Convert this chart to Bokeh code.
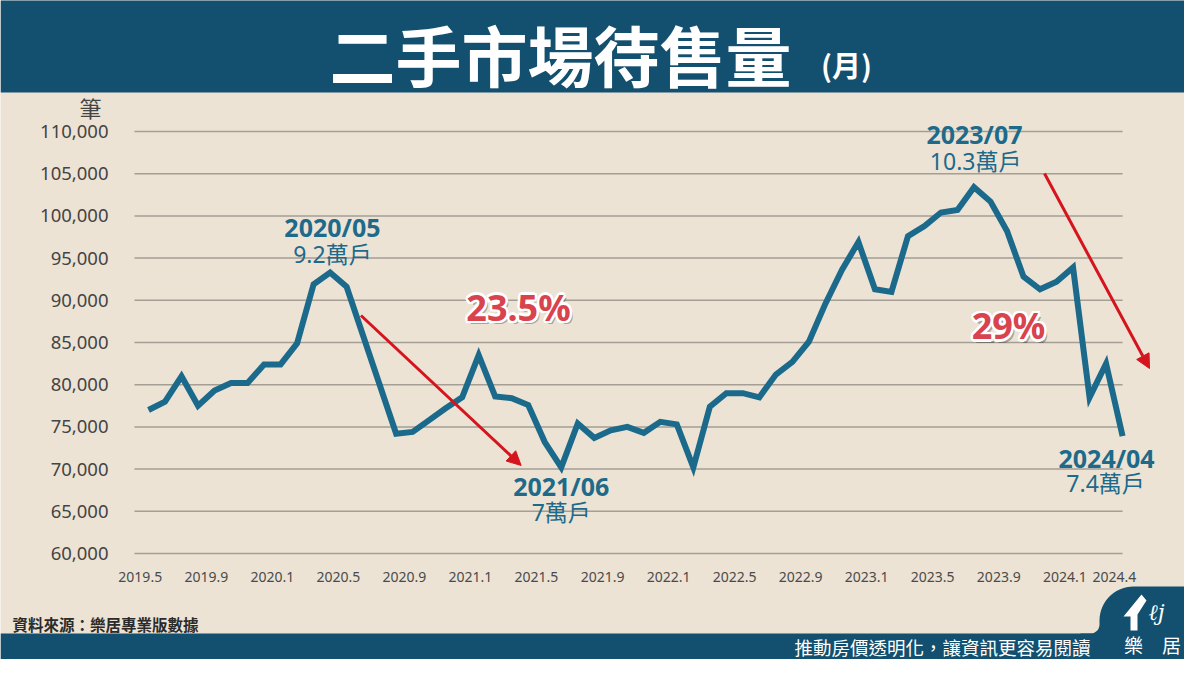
import numpy as np
from bokeh.plotting import figure
from bokeh.models import Range1d, FixedTicker, LinearAxis, Arrow, NormalHead, NumeralTickFormatter
from bokeh.embed import file_html
from bokeh.resources import INLINE
from bokeh.core.properties import value

# ---------------- data ----------------
month_index = list(range(60))  # 2019.5 ... 2024.4
inventory = [77000, 78000, 81000, 77500, 79300, 80200, 80200, 82400, 82400, 84900,
             91900, 93300, 91600, 85800, 80000, 74200, 74400, 75800, 77200, 78500,
             83500, 78600, 78400, 77600, 73200, 70200, 75400, 73700, 74600, 75000,
             74300, 75600, 75300, 70200, 77400, 79000, 79000, 78500, 81200, 82700,
             85100, 89600, 93600, 96900, 91300, 91000, 97600, 98800, 100400, 100700,
             103400, 101700, 98200, 92800, 91300, 92200, 93900, 78500, 82500, 73900]
tick_index = [0, 4, 8, 12, 16, 20, 24, 28, 32, 36, 40, 44, 48, 52, 56, 59]
tick_labels = ["2019.5", "2019.9", "2020.1", "2020.5", "2020.9", "2021.1", "2021.5", "2021.9",
               "2022.1", "2022.5", "2022.9", "2023.1", "2023.5", "2023.9", "2024.1", "2024.4"]
y_ticks = [60000, 65000, 70000, 75000, 80000, 85000, 90000, 95000, 100000, 105000, 110000]

# annotations (month index, value)
date_labels = ["2020/05", "2021/06", "2023/07", "2024/04"]
date_x = [11.14, 25.0, 50.03, 58.03]
date_y = [98740, 67940, 109700, 71370]
unit_labels = ["9.2萬戶", "7萬戶", "10.3萬戶", "7.4萬戶"]
unit_x = [11.14, 25.0, 50.1, 57.97]
unit_y = [95430, 64860, 106560, 68410]
pct_labels = ["23.5%", "29%"]
pct_x = [22.41, 52.09]
pct_y = [89150, 87010]
arrows = [(12.87, 88200, 22.57, 70430), (54.27, 105020, 60.63, 81920)]

# ---------------- style / layout ----------------
BG = "#ece3d5"
HDR = "#134f6e"
LINE = "#1b6a8b"
TXT = "#1d6a8a"
RED = "#d5141d"
PCT = "#d8434e"
GRID = "#a59e94"
CJK = "Noto Sans CJK TC"
MIX = "Noto Sans, Noto Sans CJK TC"

W, H = 1184, 659
PX0, PXM = 148.0, 16.51          # pixel of month 0, pixels per month
PY0, PYU = 553.0, 422.0 / 50000  # pixel of 60,000, pixels per unit

def mx(px):
    return (px - PX0) / PXM

def my(py):
    return 60000 + (PY0 - py) / PYU

def fy(y):
    # footer strip squeezed slightly so that it fits the canvas height
    return y if y <= 600 else 600 + (y - 600) * (H - 600) / (675 - 600)

p = figure(width=W, height=H, x_range=Range1d(0, W), y_range=Range1d(H, 0),
           x_axis_type=None, y_axis_type=None, output_backend="svg", toolbar_location=None,
           min_border=0, background_fill_color=BG, border_fill_color=BG, outline_line_color=None)
p.grid.visible = False
p.extra_x_ranges = {"mx": Range1d(mx(0), mx(W)),
                    "lab": Range1d(mx(0) + 0.5, mx(W) + 0.5)}
p.extra_y_ranges = {"my": Range1d(my(H), my(0))}

# header band and title
p.quad(left=[0], right=[1200], top=[-5], bottom=[92], fill_color=HDR, line_color=None)
p.text(x=[560], y=[52], text=["二手市場待售量"], text_font=value(CJK), text_font_size="66px",
       text_font_style="bold", text_color="white", text_align="center", text_baseline="middle")
p.text(x=[846], y=[63], text=["(月)"], text_font=value(CJK), text_font_size="29px",
       text_font_style="bold", text_color="white", text_align="center", text_baseline="middle")

# axes (drawn at fixed locations, no extra border space)
ya = LinearAxis(y_range_name="my", fixed_location=130, ticker=FixedTicker(ticks=y_ticks),
                formatter=NumeralTickFormatter(format="0,0"))
ya.axis_line_color = None
ya.major_tick_line_color = None
ya.minor_tick_line_color = None
ya.major_label_standoff = 16
ya.major_label_text_font_size = "18.5px"
ya.major_label_text_color = "#444444"
ya.major_label_text_font = "Noto Sans"
p.add_layout(ya, "left")

xa = LinearAxis(x_range_name="lab", fixed_location=558, ticker=FixedTicker(ticks=tick_index),
                major_label_overrides={i: l for i, l in zip(tick_index, tick_labels)})
xa.axis_line_color = None
xa.major_tick_line_color = None
xa.minor_tick_line_color = None
xa.major_label_standoff = 7
xa.major_label_text_font_size = "14px"
xa.major_label_text_color = "#4a4a4a"
xa.major_label_text_font = "Noto Sans"
p.add_layout(xa, "below")

p.text(x=[90], y=[106], text=["筆"], text_font=value(CJK), text_font_size="22px",
       text_color="#444444", text_align="center", text_baseline="middle")

# grid lines
n = len(y_ticks)
p.segment(x0=[mx(134)] * n, y0=y_ticks, x1=[month_index[-1]] * n, y1=y_ticks,
          line_color=GRID, line_width=1.5, x_range_name="mx", y_range_name="my")

# data line
p.line(x=month_index, y=inventory, line_color=LINE, line_width=6, line_join="miter",
       x_range_name="mx", y_range_name="my")

for xs, ys, xe, ye in arrows:
    p.add_layout(Arrow(end=NormalHead(size=14, fill_color=RED, line_color=RED),
                       x_start=xs, y_start=ys, x_end=xe, y_end=ye,
                       line_color=RED, line_width=3, x_range_name="mx", y_range_name="my"))

p.text(x=date_x, y=date_y, text=date_labels, text_font=value(MIX), text_font_size="25px",
       text_font_style="bold", text_color=TXT, text_align="center", text_baseline="middle",
       x_range_name="mx", y_range_name="my")
p.text(x=unit_x, y=unit_y, text=unit_labels, text_font=value(MIX), text_font_size="23px",
       text_color=TXT, text_align="center", text_baseline="middle",
       x_range_name="mx", y_range_name="my")

# percent labels: shadow, white outline, red fill
pct_style = dict(text_font=value("Noto Sans"), text_font_size="36px", text_font_style="bold",
                 text_align="center", text_baseline="middle", x_range_name="mx", y_range_name="my")
p.text(x=pct_x, y=pct_y, text=pct_labels, x_offset=3, y_offset=3.5, text_color="#000000",
       text_alpha=0.3, **pct_style)
for dx, dy in [(-2.5, 0), (2.5, 0), (0, -2.5), (0, 2.5), (-1.8, -1.8), (1.8, -1.8), (-1.8, 1.8), (1.8, 1.8)]:
    p.text(x=pct_x, y=pct_y, text=pct_labels, x_offset=dx, y_offset=dy, text_color="white", **pct_style)
p.text(x=pct_x, y=pct_y, text=pct_labels, text_color=PCT, **pct_style)

# footer band and logo tab
p.quad(left=[0], right=[1200], top=[fy(642)], bottom=[700], fill_color=HDR, line_color=None)
r_big, r_small = 34, 9
t1 = np.linspace(0, np.pi / 2, 12)
fillet_x = 1090 + r_small * np.cos(t1)
fillet_y = fy(642) - r_small + r_small * np.sin(t1)
t2 = np.linspace(np.pi, 1.5 * np.pi, 16)
corner_x = 1099 + r_big + r_big * np.cos(t2)
corner_y = 586 + r_big + r_big * np.sin(t2)
px = [1080] + list(fillet_x[::-1]) + list(corner_x) + [1200, 1200, 1080]
py = [fy(642)] + list(fillet_y[::-1]) + list(corner_y) + [586, 700, 700]
p.patch(x=px, y=py, fill_color=HDR, line_color=None)

p.patch(x=[1123, 1141, 1146, 1137, 1137, 1130, 1130],
        y=[616, 594, 600, 614, 630, 630, 616], fill_color="white", line_color=None)
p.text(x=[1156], y=[612], text=["ℓj"], text_font=value("DejaVu Serif"), text_font_size="22px",
       text_font_style="italic", text_color="white", text_align="center", text_baseline="middle")
p.text(x=[1152], y=[fy(656)], text=["樂　居"], text_font=value(CJK), text_font_size="19px",
       text_color="white", text_align="center", text_baseline="middle")

p.text(x=[12], y=[fy(630)], text=["資料來源：樂居專業版數據"], text_font=value(CJK), text_font_size="15.5px",
       text_font_style="bold", text_color="#2b2b2b", text_align="left", text_baseline="middle")
p.text(x=[1090], y=[fy(659)], text=["推動房價透明化，讓資訊更容易閱讀"], text_font=value(CJK),
       text_font_size="18.5px", text_color="white", text_align="right", text_baseline="middle")

open("out.html", "w").write(file_html(p, INLINE))
